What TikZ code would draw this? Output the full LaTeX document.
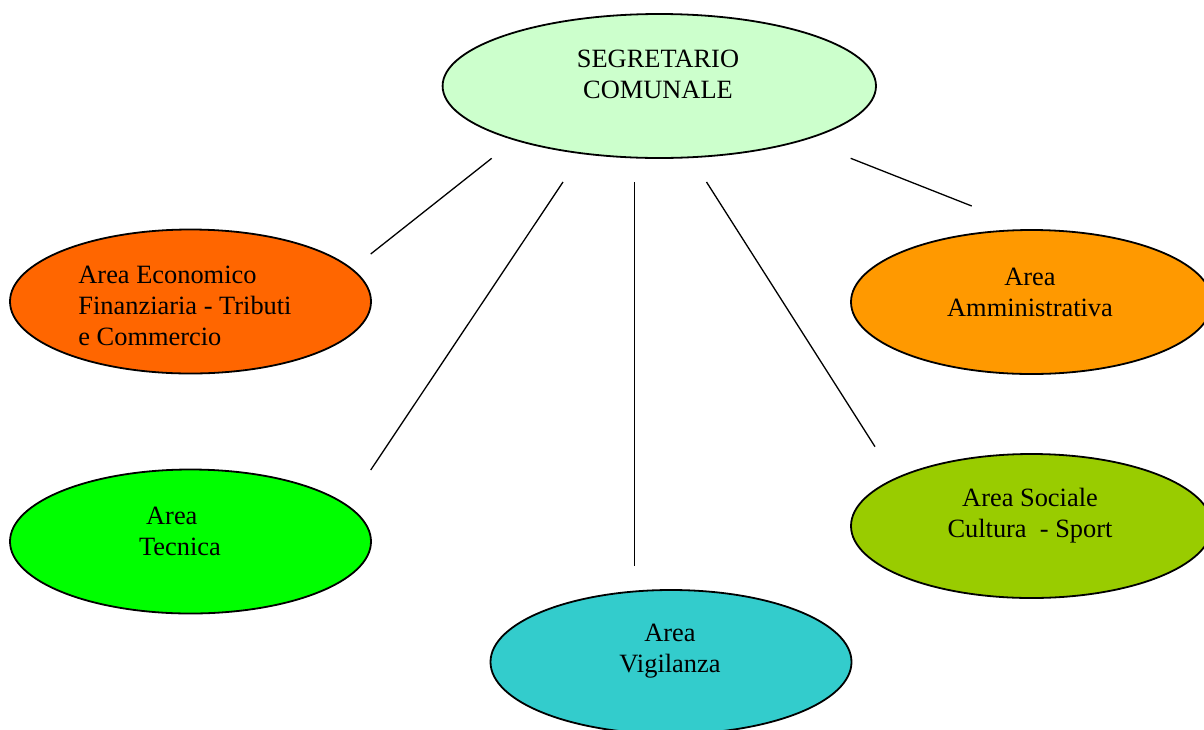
\documentclass[tikz,border=0pt]{standalone}
\usepackage{fontspec}
\setmainfont{Liberation Serif}
\usepackage{tikz}
\usetikzlibrary{shapes,shapes.geometric}

\definecolor{segcol}{HTML}{CCFFCC}
\definecolor{econcol}{HTML}{FF6600}
\definecolor{ammcol}{HTML}{FF9900}
\definecolor{teccol}{HTML}{00FF00}
\definecolor{soccol}{HTML}{99CC00}
\definecolor{vigcol}{HTML}{33CCCC}

\begin{document}
\begin{tikzpicture}[x=0.5pt, y=-0.5pt,
   area/.style={ellipse, draw, line width=0.9pt, inner sep=0pt,
     minimum width=180.5pt, minimum height=72pt},
   lbl/.style={inner sep=0pt, font=\fontsize{13.2}{15.5}\selectfont},
   link/.style={line width=0.65pt}]
   \useasboundingbox (0,0) rectangle (1204,729);
   % ellipses
   \node[area, fill=segcol, minimum width=216.7pt] (seg) at (659.3,86) {};
   \node[area, fill=econcol] (econ) at (190.5,301.5) {};
   \node[area, fill=ammcol] (amm) at (1031.5,302) {};
   \node[area, fill=teccol] (tec) at (190.5,541.5) {};
   \node[area, fill=soccol] (soc) at (1031.5,526) {};
   \node[area, fill=vigcol] (vig) at (671,662) {};
   % texts
   \node[lbl, align=center] (seg-t) at (658,74) {SEGRETARIO\\COMUNALE};
   \node[lbl, align=left, anchor=west] (econ-t) at (78,306) {Area Economico\\Finanziaria - Tributi\\e Commercio};
   \node[lbl, align=center] (amm-t) at (1030,292) {Area\\Amministrativa};
   \node[lbl, align=left] (tec-t) at (180,531) {\hspace*{3.5pt}Area\\Tecnica};
   \node[lbl, align=center] (soc-t) at (1030,516) {Area Sociale\\Cultura\ \ - Sport};
   \node[lbl, align=center] (vig-t) at (670,651) {Area\\Vigilanza};
   % free ends of the links
   \coordinate (l1a) at (491.7,158.3); \coordinate (l1b) at (370.7,254);
   \coordinate (l2a) at (563,182);     \coordinate (l2b) at (370.7,470);
   \coordinate (l3a) at (634.7,182);   \coordinate (l3b) at (634.7,566);
   \coordinate (l4a) at (706.5,182);   \coordinate (l4b) at (875,446.7);
   \coordinate (l5a) at (850.7,158.3); \coordinate (l5b) at (971.7,206);
   \foreach \i in {1,...,5}
     \draw[link] (l\i a) -- (l\i b);
\end{tikzpicture}
\end{document}
